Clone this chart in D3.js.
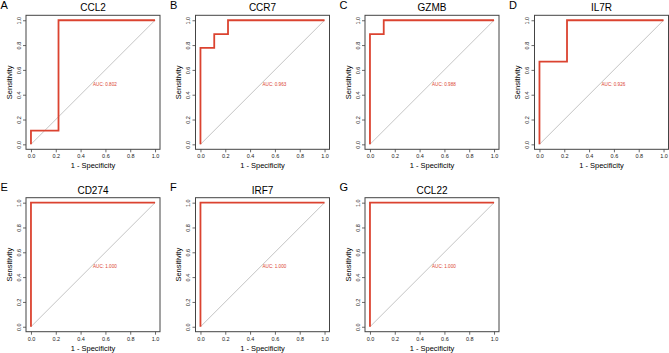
<!DOCTYPE html>
<html>
<head>
<meta charset="utf-8">
<script src="https://cdn.jsdelivr.net/npm/d3@7.9.0/dist/d3.min.js"></script>
<style>
  body { margin: 0; background: #fff; }
  svg { font-family: "Liberation Sans", Arial, sans-serif; }
</style>
</head>
<body>
<svg width="669" height="353"></svg>
<script>
// panel letters and gene names
const letters = ["A", "B", "C", "D", "E", "F", "G"];
const genes = ["CCL2", "CCR7", "GZMB", "IL7R", "CD274", "IRF7", "CCL22"];
const aucs = ["0.802", "0.963", "0.988", "0.926", "1.000", "1.000", "1.000"];

// ROC steps: 1 - specificity (fpr) and sensitivity (tpr)
const fpr = [
  [0, 0, 0.222, 0.222, 1],
  [0, 0, 0.111, 0.111, 0.222, 0.222, 1],
  [0, 0, 0.111, 0.111, 1],
  [0, 0, 0.222, 0.222, 1],
  [0, 0, 1],
  [0, 0, 1],
  [0, 0, 1]
];
const tpr = [
  [0, 0.111, 0.111, 1, 1],
  [0, 0.778, 0.778, 0.889, 0.889, 1, 1],
  [0, 0.889, 0.889, 1, 1],
  [0, 0.667, 0.667, 1, 1],
  [0, 1, 1],
  [0, 1, 1],
  [0, 1, 1]
];
const tickValues = [0, 0.2, 0.4, 0.6, 0.8, 1.0];

const svg = d3.select("svg");
const boxSize = 134;
const colStep = 169.5, rowStep = 182.4;
const red = "#db4330";

genes.forEach((gene, i) => {
  const col = i % 4, row = Math.floor(i / 4);
  const left = 26 + col * colStep;
  const top = 15.3 + row * rowStep;

  const x = d3.scaleLinear().domain([-0.04, 1.04]).range([left, left + boxSize]);
  const y = d3.scaleLinear().domain([-0.04, 1.04]).range([top + boxSize, top]);

  const g = svg.append("g");

  // panel letter and title
  g.append("text")
    .attr("x", left - 25.5)
    .attr("y", top - 6.8)
    .attr("font-size", 11)
    .text(letters[i]);
  g.append("text")
    .attr("x", left + boxSize / 2)
    .attr("y", top - 4)
    .attr("text-anchor", "middle")
    .attr("font-size", 10)
    .text(gene);

  // diagonal reference
  g.append("line")
    .attr("x1", x(0)).attr("y1", y(0))
    .attr("x2", x(1)).attr("y2", y(1))
    .attr("stroke", "#aaa")
    .attr("stroke-width", 0.7);

  // ROC curve
  const line = d3.line().x(d => x(d[0])).y(d => y(d[1]));
  g.append("path")
    .datum(d3.zip(fpr[i], tpr[i]))
    .attr("d", line)
    .attr("fill", "none")
    .attr("stroke", red)
    .attr("stroke-width", 1.8);

  // AUC text
  g.append("text")
    .attr("x", x(0.5))
    .attr("y", y(0.5) + 3.6)
    .attr("font-size", 4.6)
    .attr("fill", red)
    .text("AUC: " + aucs[i]);

  // box
  g.append("rect")
    .attr("x", left).attr("y", top)
    .attr("width", boxSize).attr("height", boxSize)
    .attr("fill", "none")
    .attr("stroke", "#444")
    .attr("stroke-width", 1);

  // axes
  const xAxis = g.append("g")
    .attr("transform", `translate(0,${top + boxSize})`)
    .call(d3.axisBottom(x).tickValues(tickValues).tickFormat(d3.format(".1f"))
      .tickSize(3).tickPadding(2));
  const yAxis = g.append("g")
    .attr("transform", `translate(${left},0)`)
    .call(d3.axisLeft(y).tickValues(tickValues).tickFormat(d3.format(".1f"))
      .tickSize(3).tickPadding(2));

  [xAxis, yAxis].forEach(a => {
    a.select(".domain").remove();
    a.selectAll(".tick line").attr("stroke", "#444").attr("stroke-width", 0.8);
    a.selectAll(".tick text")
      .attr("font-size", 5.5)
      .attr("font-family", "Liberation Sans, Arial, sans-serif")
      .attr("fill", "#222");
  });
  xAxis.selectAll(".tick text").attr("y", 5).attr("dy", "0.71em");
  yAxis.selectAll(".tick text")
    .attr("transform", "rotate(-90)")
    .attr("x", 0)
    .attr("y", -7)
    .attr("dy", "0.35em")
    .attr("text-anchor", "middle");

  // axis titles
  g.append("text")
    .attr("x", x(0.5))
    .attr("y", top + boxSize + 19)
    .attr("text-anchor", "middle")
    .attr("font-size", 7.5)
    .text("1 - Specificity");
  g.append("text")
    .attr("transform", `translate(${left - 14.3},${y(0.5)}) rotate(-90)`)
    .attr("text-anchor", "middle")
    .attr("font-size", 7.5)
    .text("Sensitivity");
});
</script>
</body>
</html>
